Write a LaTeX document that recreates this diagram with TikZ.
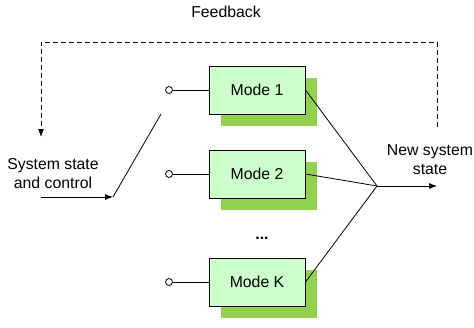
\documentclass[tikz,border=0pt]{standalone}
\usepackage{fontspec}
\setmainfont{Liberation Sans}
\usepackage{tikz}
\usetikzlibrary{positioning,shadows,arrows.meta}

\definecolor{modefill}{RGB}{204,255,204}
\definecolor{modeshadow}{RGB}{146,208,80}

\begin{document}
\begin{tikzpicture}[x=1pt,y=-1pt,
        font=\fontsize{15.8}{19}\selectfont,
        modebox/.style={draw, line width=1pt, fill=modefill, minimum width=96pt, minimum height=48pt,
            drop shadow={shadow xshift=11.5pt, shadow yshift=-12pt, fill=modeshadow, opacity=1}},
        contact/.style={draw, circle, fill=white, inner sep=0pt, minimum size=7pt, line width=0.8pt},
        wire/.style={line width=0.8pt},
        arr/.style={wire, -{Latex[length=8pt,width=6pt]}}]
        \useasboundingbox (0,0) rectangle (474,327);

        % Blocchi dei modi
        \node[modebox] (mode1) at (257, 90) {Mode 1};
        \node[modebox] (mode2) at (257, 174) {Mode 2};
        \node[modebox] (modeK) at (257, 282) {Mode K};
        \node (dots) at (262, 238) {\textbf{...}};

        % Contatti del commutatore
        \node[contact] (c1) at (169, 90) {};
        \node[contact] (c2) at (169, 174) {};
        \node[contact] (cK) at (169, 282) {};
        \draw[wire] (c1) -- (mode1);
        \draw[wire] (c2) -- (mode2);
        \draw[wire] (cK) -- (modeK);

        % Ingresso e commutatore
        \node[align=center] (input) at (53, 174) {System state\\and control};
        \coordinate (in_start) at (41, 197);
        \coordinate (pivot) at (113, 197);
        \coordinate (lever) at (161, 114);
        \draw[arr] (in_start) -- (pivot);
        \draw[wire] (pivot) -- (lever);

        % Uscita
        \coordinate (join) at (377, 186);
        \coordinate (out_end) at (437, 186);
        \node[align=center] (output) at (430, 160) {New system\\state};
        \draw[wire] (mode1.east) -- (join);
        \draw[wire] (mode2.east) -- (join);
        \draw[wire] (modeK.east) -- (join);
        \draw[arr] (join) -- (out_end);

        % Retroazione
        \node (feedback) at (226, 12) {Feedback};
        \coordinate (fb_start) at (437, 127);
        \coordinate (fb_end) at (41, 137);
        \draw[arr, dash pattern=on 5pt off 3pt] (fb_start) |- (226, 42) -| (fb_end);
    \end{tikzpicture}
\end{document}
